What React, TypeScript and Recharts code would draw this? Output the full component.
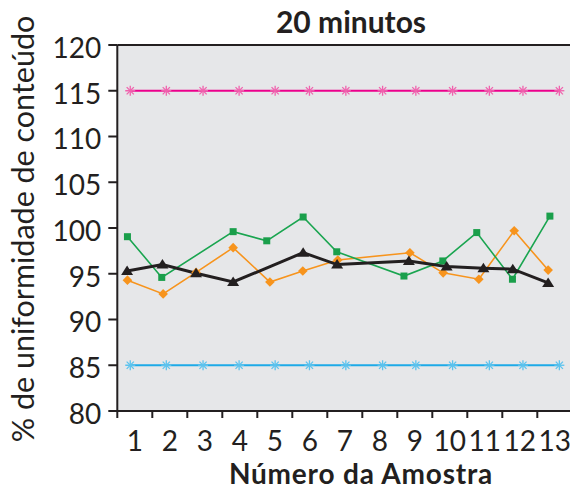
import React from 'react';
import { LineChart, Line, XAxis, YAxis, CartesianGrid, ReferenceLine, Customized } from 'recharts';

// Sample numbers (x-axis categories)
const sampleLabels = [1, 2, 3, 4, 5, 6, 7, 8, 9, 10, 11, 12, 13];
const yTicks = [80, 85, 90, 95, 100, 105, 110, 115, 120];

// Limit lines (x positions in sample units)
const limitX = [0.87, 1.9, 2.95, 3.98, 5.01, 5.99, 7.03, 8.08, 9.03, 10.08, 11.13, 12.09, 13.13];
const upperLimit = [115, 115, 115, 115, 115, 115, 115, 115, 115, 115, 115, 115, 115];
const lowerLimit = [85, 85, 85, 85, 85, 85, 85, 85, 85, 85, 85, 85, 85];

// Black series (triangles)
const blackX = [0.78, 1.79, 2.75, 3.81, 5.81, 6.78, 8.83, 9.91, 10.96, 11.8, 12.81];
const blackY = [95.3, 96.0, 95.05, 94.1, 97.3, 96.0, 96.4, 95.8, 95.6, 95.5, 94.0];

// Green series (squares)
const greenX = [0.79, 1.77, 3.81, 4.77, 5.81, 6.77, 8.69, 9.8, 10.77, 11.79, 12.86];
const greenY = [99.05, 94.6, 99.6, 98.6, 101.2, 97.4, 94.75, 96.4, 99.5, 94.4, 101.3];

// Orange series (diamonds)
const orangeX = [0.79, 1.81, 2.75, 3.81, 4.86, 5.8, 6.8, 8.86, 9.81, 10.83, 11.84, 12.81];
const orangeY = [94.3, 92.8, 95.15, 97.85, 94.1, 95.3, 96.5, 97.3, 95.1, 94.4, 99.7, 95.4];

const toData = (xs: number[], ys: number[]) => xs.map((x, i) => ({ x, y: ys[i] }));

const FONT = "Lato, 'Open Sans', sans-serif";
const INK = '#231f20';

const Asterisk = (color: string) => (p: any) => {
  const { cx, cy } = p;
  if (cx == null || cy == null) return null;
  const r = 5;
  const d = 3.6;
  return (
    <g stroke={color} strokeWidth={1.3} fill="none">
      <line x1={cx} y1={cy - r} x2={cx} y2={cy + r} />
      <line x1={cx - d} y1={cy - d} x2={cx + d} y2={cy + d} />
      <line x1={cx - d} y1={cy + d} x2={cx + d} y2={cy - d} />
      <line x1={cx - r} y1={cy} x2={cx + r} y2={cy} />
    </g>
  );
};

const Triangle = (p: any) => {
  const { cx, cy } = p;
  if (cx == null || cy == null) return null;
  return <path d={`M${cx},${cy - 5.5} L${cx + 6},${cy + 4} L${cx - 6},${cy + 4} Z`} fill={INK} />;
};

const Square = (p: any) => {
  const { cx, cy } = p;
  if (cx == null || cy == null) return null;
  return <rect x={cx - 3.5} y={cy - 3.5} width={7} height={7} fill="#1a9f4b" />;
};

const Diamond = (p: any) => {
  const { cx, cy } = p;
  if (cx == null || cy == null) return null;
  return <path d={`M${cx},${cy - 4.8} L${cx + 4.8},${cy} L${cx},${cy + 4.8} L${cx - 4.8},${cy} Z`} fill="#f7941d" />;
};

const XTick = (p: any) => {
  const { x, y, payload } = p;
  const half = 17.5;
  return (
    <g>
      <line x1={x - half} y1={y} x2={x - half} y2={y + 7} stroke={INK} strokeWidth={2} />
      <text x={x} y={y + 40} textAnchor="middle" fontSize={28} fontFamily={FONT} fill={INK}>
        {payload.value}
      </text>
    </g>
  );
};

const Texts = () => (
  <g fontFamily={FONT} fill={INK}>
    <text x={351} y={33} textAnchor="middle" fontSize={30} fontWeight={700}>20 minutos</text>
    <text x={361} y={484} textAnchor="middle" fontSize={28} fontWeight={700} letterSpacing={0.8}>Número da Amostra</text>
    <text
      x={0}
      y={0}
      transform="translate(34,229) rotate(-90)"
      textAnchor="middle"
      fontSize={30.5}
    >
      % de uniformidade de conteúdo
    </text>
  </g>
);

export default function App() {
  return (
    <div style={{ position: 'absolute', left: 0, top: 0, width: 570, height: 489, overflow: 'hidden', background: '#fff' }}>
      <LineChart width={580} height={489} margin={{ top: 45, right: 7.7, bottom: 0, left: 0 }}>
        <CartesianGrid fill="#e6e7e9" horizontal={false} vertical={false} />
        <XAxis
          type="number"
          dataKey="x"
          domain={[0.5, 13.5]}
          ticks={sampleLabels}
          allowDataOverflow
          height={78}
          tickSize={0}
          tickMargin={0}
          tickLine={false}
          axisLine={{ stroke: INK, strokeWidth: 2 }}
          tick={<XTick />}
          interval={0}
        />
        <YAxis
          type="number"
          domain={[80, 120]}
          ticks={yTicks}
          width={117.3}
          tickSize={9}
          tickMargin={7}
          tickLine={{ stroke: INK, strokeWidth: 2 }}
          axisLine={{ stroke: INK, strokeWidth: 2 }}
          tick={{ fontSize: 28, fontFamily: FONT, fill: INK, dy: 3 }}
          interval={0}
        />
        <ReferenceLine y={120} stroke={INK} strokeWidth={2} />
        <Line data={toData(limitX, upperLimit)} dataKey="y" stroke="#ec008c" strokeWidth={2} dot={Asterisk('#f062ad')} isAnimationActive={false} />
        <Line data={toData(limitX, lowerLimit)} dataKey="y" stroke="#1eaae7" strokeWidth={2} dot={Asterisk('#5cc3ee')} isAnimationActive={false} />
        <Line data={toData(orangeX, orangeY)} dataKey="y" stroke="#f7941d" strokeWidth={1.6} dot={Diamond} isAnimationActive={false} />
        <Line data={toData(greenX, greenY)} dataKey="y" stroke="#1aa550" strokeWidth={1.6} dot={Square} isAnimationActive={false} />
        <Line data={toData(blackX, blackY)} dataKey="y" stroke={INK} strokeWidth={3} dot={Triangle} isAnimationActive={false} />
        <Customized component={Texts} />
      </LineChart>
    </div>
  );
}
